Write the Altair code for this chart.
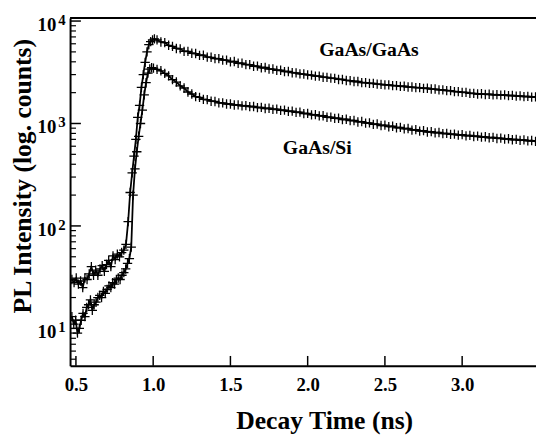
import altair as alt
import pandas as pd

# ---------------- data ----------------
GG_EARLY_T = [0.474, 0.488, 0.502, 0.516, 0.530, 0.544, 0.558, 0.572, 0.586, 0.600,
              0.614, 0.628, 0.642, 0.656, 0.670, 0.684, 0.698, 0.712, 0.726, 0.740,
              0.754, 0.768, 0.782, 0.796, 0.810, 0.824, 0.838, 0.851, 0.864, 0.876,
              0.888, 0.900, 0.912, 0.924, 0.936, 0.948, 0.960, 0.972, 0.984, 0.996, 1.008]
GG_EARLY_V = [30, 28, 31, 27, 29, 25, 31, 30, 34, 40,
              33, 37, 33, 38, 41, 36, 42, 46, 40, 51,
              47, 53, 50, 55, 58, 66, 110, 212, 330, 480,
              700, 1150, 1500, 2250, 3000, 3950, 5000, 5900, 6300, 6550, 6700]

GS_EARLY_T = [0.474, 0.486, 0.498, 0.510, 0.522, 0.534, 0.546, 0.558, 0.570, 0.582,
              0.594, 0.606, 0.618, 0.630, 0.642, 0.654, 0.666, 0.678, 0.690, 0.702,
              0.714, 0.726, 0.738, 0.750, 0.762, 0.774, 0.786, 0.798, 0.810, 0.822,
              0.834, 0.846, 0.858, 0.870, 0.882, 0.894, 0.906, 0.918, 0.930, 0.942,
              0.954, 0.966, 0.978, 0.990, 1.002]
GS_EARLY_V = [13, 11, 12, 9, 10, 12, 14, 13, 16, 17,
              19, 15, 17, 18, 20, 21, 20, 23, 22, 24,
              26, 25, 28, 27, 30, 31, 30, 33, 35, 38,
              43, 48, 62, 200, 360, 530, 750, 1000, 1350, 1900,
              2500, 3100, 3400, 3500, 3470]

TAIL_T = [1.025, 1.050, 1.075, 1.100, 1.125, 1.150, 1.175, 1.200, 1.225, 1.250,
          1.275, 1.300, 1.325, 1.350, 1.375, 1.400, 1.425, 1.450, 1.475, 1.500,
          1.525, 1.550, 1.575, 1.600, 1.625, 1.650, 1.675, 1.700, 1.725, 1.750,
          1.775, 1.800, 1.825, 1.850, 1.875, 1.900, 1.925, 1.950, 1.975, 2.000,
          2.025, 2.050, 2.075, 2.100, 2.125, 2.150, 2.175, 2.200, 2.225, 2.250,
          2.275, 2.300, 2.325, 2.350, 2.375, 2.400, 2.425, 2.450, 2.475, 2.500,
          2.525, 2.550, 2.575, 2.600, 2.625, 2.650, 2.675, 2.700, 2.725, 2.750,
          2.775, 2.800, 2.825, 2.850, 2.875, 2.900, 2.925, 2.950, 2.975, 3.000,
          3.025, 3.050, 3.075, 3.100, 3.125, 3.150, 3.175, 3.200, 3.225, 3.250,
          3.275, 3.300, 3.325, 3.350, 3.375, 3.400, 3.425, 3.450, 3.475]

GG_TAIL_V = [6550, 6250, 6150, 5800, 5650, 5400, 5350, 5050, 5050, 4850,
             4820, 4620, 4640, 4450, 4430, 4300, 4290, 4150, 4160, 4000,
             4030, 3870, 3880, 3750, 3750, 3620, 3630, 3500, 3520, 3400,
             3400, 3300, 3310, 3210, 3220, 3130, 3120, 3050, 3040, 2980,
             2970, 2900, 2900, 2830, 2820, 2770, 2760, 2690, 2690, 2630,
             2620, 2570, 2570, 2510, 2510, 2460, 2460, 2420, 2410, 2380,
             2380, 2340, 2340, 2300, 2310, 2270, 2270, 2240, 2240, 2200,
             2210, 2170, 2170, 2130, 2130, 2090, 2090, 2050, 2050, 2010,
             2010, 1970, 1970, 1940, 1950, 1920, 1930, 1900, 1910, 1890,
             1900, 1870, 1880, 1850, 1860, 1830, 1840, 1810, 1820]

GS_TAIL_V = [3380, 3270, 3080, 2920, 2680, 2540, 2330, 2220, 2030, 1940,
             1830, 1800, 1720, 1710, 1650, 1640, 1590, 1590, 1550, 1550,
             1515, 1520, 1485, 1495, 1460, 1465, 1430, 1435, 1400, 1410,
             1375, 1380, 1345, 1350, 1315, 1320, 1285, 1290, 1250, 1255,
             1215, 1220, 1185, 1190, 1150, 1155, 1120, 1125, 1090, 1100,
             1065, 1070, 1035, 1045, 1010, 1015, 980, 988, 955, 965,
             930, 940, 908, 915, 885, 894, 862, 872, 843, 852,
             826, 834, 809, 817, 795, 801, 782, 788, 770, 778,
             758, 766, 747, 754, 736, 742, 725, 731, 714, 720,
             703, 710, 694, 700, 685, 691, 676, 682, 668]

SERIES = ["GaAs/GaAs", "GaAs/Si"]
LABEL_T = [2.397, 2.0625]
LABEL_V = [4600, 504]

Y_MAJOR = [10, 100, 1000, 10000]
Y_EXP = ["1", "2", "3", "4"]
Y_MINOR = [5, 6, 7, 8, 9, 20, 30, 40, 50, 60, 70, 80, 90,
           200, 300, 400, 500, 600, 700, 800, 900,
           2000, 3000, 4000, 5000, 6000, 7000, 8000, 9000]
X_TICKS = [0.5, 1.0, 1.5, 2.0, 2.5, 3.0]

X_DOMAIN = [0.462, 3.478]
Y_DOMAIN = [4.31, 10690]

# ---------------- build tables ----------------
df = pd.concat([
    pd.DataFrame({"t": GG_EARLY_T + TAIL_T, "v": GG_EARLY_V + GG_TAIL_V, "series": SERIES[0]}),
    pd.DataFrame({"t": GS_EARLY_T + TAIL_T, "v": GS_EARLY_V + GS_TAIL_V, "series": SERIES[1]}),
], ignore_index=True)
labels_df = pd.DataFrame({"t": LABEL_T, "v": LABEL_V, "label": SERIES})
ymaj_df = pd.DataFrame({"v": Y_MAJOR, "exp": Y_EXP, "base": ["10"] * len(Y_MAJOR)})
ymin_df = pd.DataFrame({"v": Y_MINOR})
xt_df = pd.DataFrame({"t": X_TICKS})

W, H = 473, 353
FONT = "Liberation Serif"
CROSS = "M-1,0H1M0,-1V1"

xscale = alt.Scale(domain=X_DOMAIN, nice=False, zero=False)
yscale = alt.Scale(type="log", domain=Y_DOMAIN, nice=False)

xaxis = alt.Axis(values=X_TICKS, format=".1f", ticks=False, tickSize=0, grid=False,
                 domainColor="black", domainWidth=2,
                 labelFont=FONT, labelFontWeight="bold", labelFontSize=19,
                 labelColor="black", labelPadding=10, labelFlush=False,
                 title="Decay Time (ns)", titleFont=FONT, titleFontWeight="bold",
                 titleFontSize=26, titleColor="black", titleX=258, titleY=64,
                 titleBaseline="alphabetic", titleAlign="center")
yaxis = alt.Axis(labels=False, ticks=False, tickSize=0, grid=False,
                 domainColor="black", domainWidth=2,
                 title="PL Intensity (log. counts)", titleFont=FONT,
                 titleFontWeight="bold", titleFontSize=26, titleColor="black",
                 titleAngle=270, titleX=-40, titleY=160,
                 titleBaseline="alphabetic", titleAlign="center")

lines = alt.Chart(df).mark_line(color="black", strokeWidth=1.8, clip=True).encode(
    x=alt.X("t:Q", scale=xscale, axis=xaxis),
    y=alt.Y("v:Q", scale=yscale, axis=yaxis),
    detail="series:N",
)
points = alt.Chart(df).mark_point(shape=CROSS, filled=False, stroke="black",
                                  strokeWidth=1.3, size=90, opacity=1, clip=True).encode(
    x="t:Q", y="v:Q",
)
ymaj = alt.Chart(ymaj_df).mark_rule(color="black", strokeWidth=1.5).encode(
    x=alt.value(0), x2=alt.value(11), y="v:Q")
ymin = alt.Chart(ymin_df).mark_rule(color="black", strokeWidth=1.2).encode(
    x=alt.value(0), x2=alt.value(6), y="v:Q")
xt = alt.Chart(xt_df).mark_rule(color="black", strokeWidth=1.5).encode(
    x="t:Q", y=alt.value(H), y2=alt.value(H - 10))
top = alt.Chart(pd.DataFrame({"a": [0]})).mark_rule(color="black", strokeWidth=2).encode(
    x=alt.value(0), x2=alt.value(W), y=alt.value(0))
ylab_base = alt.Chart(ymaj_df).mark_text(font=FONT, fontWeight="bold", fontSize=19,
                                          align="right", baseline="alphabetic", dy=10,
                                          color="black").encode(
    x=alt.value(-14), y="v:Q", text="base:N")
ylab_exp = alt.Chart(ymaj_df).mark_text(font=FONT, fontWeight="bold", fontSize=15,
                                         align="left", baseline="alphabetic", dy=4,
                                         color="black").encode(
    x=alt.value(-12), y="v:Q", text="exp:N")
ann = alt.Chart(labels_df).mark_text(font=FONT, fontWeight="bold", fontSize=20,
                                      align="center", baseline="alphabetic",
                                      color="black").encode(
    x="t:Q", y="v:Q", text="label:N")

chart = alt.layer(lines, points, ymaj, ymin, xt, top, ylab_base, ylab_exp, ann).properties(
    width=W, height=H,
    autosize=alt.AutoSizeParams(type="none"),
    padding={"left": 63, "top": 7, "right": 0, "bottom": 67},
    background="white",
).configure_view(stroke=None)

chart.save("out.html", embed_options={"renderer": "svg", "actions": False})
